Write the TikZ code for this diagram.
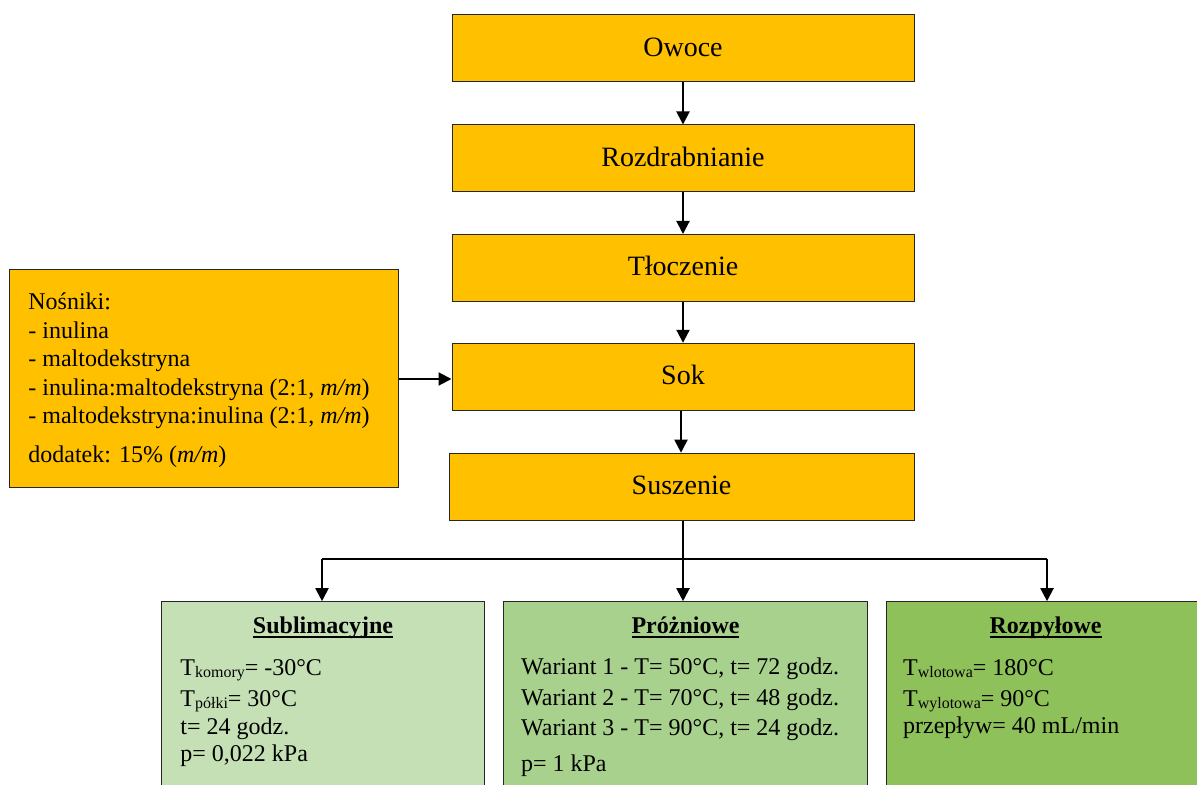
\documentclass[tikz,border=0pt]{standalone}
\usepackage{fontspec}
\setmainfont{Liberation Serif}
\usetikzlibrary{arrows.meta}
\definecolor{gold}{HTML}{FFC000}
\definecolor{greenA}{HTML}{C5E0B4}
\definecolor{greenB}{HTML}{A9D18E}
\definecolor{greenC}{HTML}{8FC15A}
\newcommand\lowsub[1]{\raisebox{-1pt}{\fontsize{8}{8}\selectfont #1}}
\newlength\hulen
\newcommand\headul[1]{\settowidth{\hulen}{\textbf{#1}}\textbf{#1}\llap{\rule[-2.5pt]{\hulen}{0.9pt}}}
\tikzset{
  mainbox/.style={draw=black!85, line width=0.5pt, fill=gold, inner sep=0pt,
    minimum width=231pt, minimum height=33.5pt,
    font=\fontsize{14}{16}\selectfont, text height=0.78em, text depth=0em},
  sidebox/.style={draw=black!85, line width=0.5pt, fill=gold, inner sep=0pt},
  lowbox/.style={draw=black!85, line width=0.5pt, inner sep=0pt, minimum height=100pt},
  txt/.style={inner sep=0pt, anchor=base west, font=\fontsize{12}{14}\selectfont},
  head/.style={inner sep=0pt, anchor=base, font=\fontsize{12}{14}\selectfont},
  arr/.style={line width=1pt, -{Triangle[length=6.5pt,width=6.5pt]}},
  thin/.style={line width=0.6pt}
}
\begin{document}
\begin{tikzpicture}[x=0.5pt,y=-0.5pt]
\useasboundingbox (0,0) rectangle (1197,785);
\begin{scope}
\clip (0,0) rectangle (1197,785);
% main column
\node[mainbox] (owoce) at (683,48.5) {Owoce};
\node[mainbox] (rozd) at (683,158.5) {Rozdrabnianie};
\node[mainbox] (tlocz) at (683,268) {Tłoczenie};
\node[mainbox] (sok) at (683,376.8) {Sok};
\node[mainbox, minimum width=232.5pt] (susz) at (681.5,486.7) {Suszenie};
% left box
\node[sidebox, minimum width=194.5pt, minimum height=109pt] (nos) at (203.8,378.3) {};
\node[txt] (n1) at (28,310) {Nośniki:};
\node[txt] (n2) at (28,339) {- inulina};
\node[txt] (n3) at (28,367) {- maltodekstryna};
\node[txt] (n4) at (28,395) {- inulina:maltodekstryna (2:1, \textit{m/m})};
\node[txt] (n5) at (28,423) {- maltodekstryna:inulina (2:1, \textit{m/m})};
\node[txt] (n6) at (28,462) {dodatek: 15\% (\textit{m/m})};
% bottom boxes
\node[lowbox, fill=greenA, minimum width=161.3pt] (sub) at (323,701.7) {};
\node[lowbox, fill=greenB, minimum width=182.2pt] (prz) at (685.5,701.7) {};
\node[lowbox, fill=greenC, minimum width=161.3pt] (roz) at (1048,701.7) {};
\node[head] (subh) at (323,633) {\headul{Sublimacyjne}};
\node[head] (przh) at (685.5,633) {\headul{Próżniowe}};
\node[head] (rozh) at (1045.6,633) {\headul{Rozpyłowe}};
\node[txt] (s1) at (180,675) {T\lowsub{komory}= -30°C};
\node[txt] (s2) at (180,706) {T\lowsub{półki}= 30°C};
\node[txt] (s3) at (180,734.3) {t= 24 godz.};
\node[txt] (s4) at (180,761.3) {p= 0,022 kPa};
\node[txt] (p1) at (520.7,674) {Wariant 1 - T= 50°C, t= 72 godz.};
\node[txt] (p2) at (520.7,705.7) {Wariant 2 - T= 70°C, t= 48 godz.};
\node[txt] (p3) at (520.7,735) {Wariant 3 - T= 90°C, t= 24 godz.};
\node[txt] (p4) at (520.7,771.7) {p= 1 kPa};
\node[txt] (r1) at (902.7,675) {T\lowsub{wlotowa}= 180°C};
\node[txt] (r2) at (902.7,706) {T\lowsub{wylotowa}= 90°C};
\node[txt] (r3) at (902.7,733.3) {przepływ= 40 mL/min};
% connectors
\draw[arr] (owoce.south) -- (rozd.north);
\draw[arr] (rozd.south) -- (tlocz.north);
\draw[arr] (tlocz.south) -- (sok.north);
\draw[arr] ([xshift=-1pt]sok.south) -- ([xshift=-1pt]sok.south |- susz.north);
\draw[arr] (nos.east |- 0,379) -- (sok.west |- 0,379);
\coordinate (jm) at (683,559);
\coordinate (jl) at (322,559);
\coordinate (jr) at (1047,559);
\draw[thin] (susz.south -| jm) -- (jm);
\draw[thin] (jl) -- (jr);
\draw[arr] (jl) -- (jl |- sub.north);
\draw[arr] (jm) -- (jm |- prz.north);
\draw[arr] (jr) -- (jr |- roz.north);
\end{scope}
\end{tikzpicture}
\end{document}
